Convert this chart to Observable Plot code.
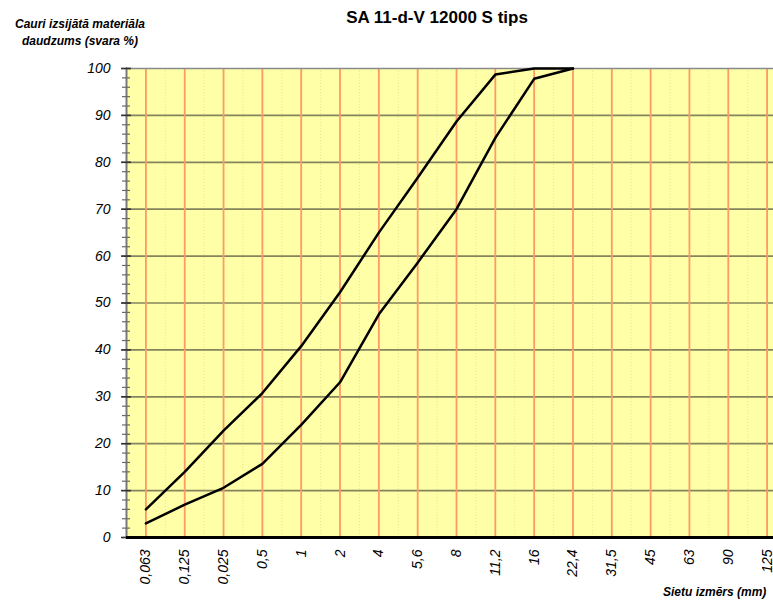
<!DOCTYPE html>
<html>
<head>
<meta charset="utf-8">
<script src="https://cdn.jsdelivr.net/npm/d3@7"></script>
<script src="https://cdn.jsdelivr.net/npm/@observablehq/plot@0.6"></script>
<style>
  html, body { margin: 0; padding: 0; background: #fff; }
  #wrap { position: relative; width: 773px; height: 603px; overflow: hidden; font-family: "Liberation Sans", Arial, sans-serif; }
  .title { position: absolute; left: 337px; width: 200px; top: 8px; text-align: center; font-weight: bold; font-size: 17px; color: #000; white-space: nowrap; }
  .ylab { position: absolute; left: 0px; width: 160px; top: 16px; text-align: center; font-weight: bold; font-style: italic; font-size: 12px; line-height: 17px; color: #000; }
  .xlab { position: absolute; left: 663px; top: 585px; font-weight: bold; font-style: italic; font-size: 12px; color: #000; white-space: nowrap; }
  #chart { position: absolute; left: 0; top: 0; }
  #chart svg text { font-family: "Liberation Sans", Arial, sans-serif; font-style: italic; fill: #000; }
</style>
</head>
<body>
<div id="wrap">
  <div id="chart"></div>
  <div class="title">SA 11-d-V 12000 S tips</div>
  <div class="ylab">Cauri izsijātā materiāla<br>daudzums (svara %)</div>
  <div class="xlab">Sietu izmērs (mm)</div>
</div>
<script>
const sieves = ["0,063","0,125","0,025","0,5","1","2","4","5,6","8","11,2","16","22,4","31,5","45","63","90","125"];
const upperValues = [6, 14, 22.8, 30.8, 40.8, 52.3, 65, 76.7, 88.7, 98.7, 100, 100];
const lowerValues = [3, 7, 10.6, 15.7, 24, 33.1, 47.6, 58.6, 70, 85.2, 97.8, 100];
const yMajor = [0, 10, 20, 30, 40, 50, 60, 70, 80, 90, 100];
const yMinor = d3.range(0, 101, 2);

const upper = upperValues.map((v, i) => ({sieve: sieves[i], value: v}));
const lower = lowerValues.map((v, i) => ({sieve: sieves[i], value: v}));

const chart = Plot.plot({
  width: 773,
  height: 603,
  marginLeft: 126,
  marginRight: 0,
  marginTop: 68,
  marginBottom: 66,
  style: {background: "transparent", overflow: "visible"},
  x: {type: "point", domain: sieves, range: [126, 786], padding: 0.5, round: false, label: null},
  y: {domain: [0, 100], range: [537, 68], label: null},
  marks: [
    Plot.frame({fill: "#FFFFA8", stroke: "none"}),
    Plot.ruleX(sieves, {dx: 19.4, stroke: "#e6e690", strokeWidth: 1, strokeDasharray: "1,2"}),
    Plot.ruleY(yMajor.filter(d => d > 0 && d < 100), {stroke: "#84845e", strokeWidth: 1.7}),
    Plot.ruleX(sieves, {stroke: "#FF9966", strokeWidth: 1.8}),
    Plot.ruleY([100], {stroke: "#8a8a8a", strokeWidth: 1.5}),
    Plot.frame({anchor: "left", stroke: "#7a7a7a", strokeWidth: 2}),
    Plot.axisY(yMinor, {tickSize: 8, dx: 4, text: null, label: null, stroke: "#6a6a6a", strokeWidth: 1.2}),
    Plot.axisY(yMajor, {tickSize: 10, dx: 5, text: null, label: null, stroke: "#333", strokeWidth: 1.6}),
    Plot.axisY(yMajor, {tickSize: 0, tickPadding: 16, fontSize: 14, label: null}),
    Plot.axisX(sieves, {tickSize: 0, tickPadding: 12, tickRotate: -90, fontSize: 14, label: null}),
    Plot.ruleY([0], {stroke: "#000", strokeWidth: 3}),
    Plot.line(upper, {x: "sieve", y: "value", stroke: "#000", strokeWidth: 2.5, strokeLinejoin: "round"}),
    Plot.line(lower, {x: "sieve", y: "value", stroke: "#000", strokeWidth: 2.5, strokeLinejoin: "round"})
  ]
});
document.getElementById("chart").appendChild(chart);
</script>
</body>
</html>
